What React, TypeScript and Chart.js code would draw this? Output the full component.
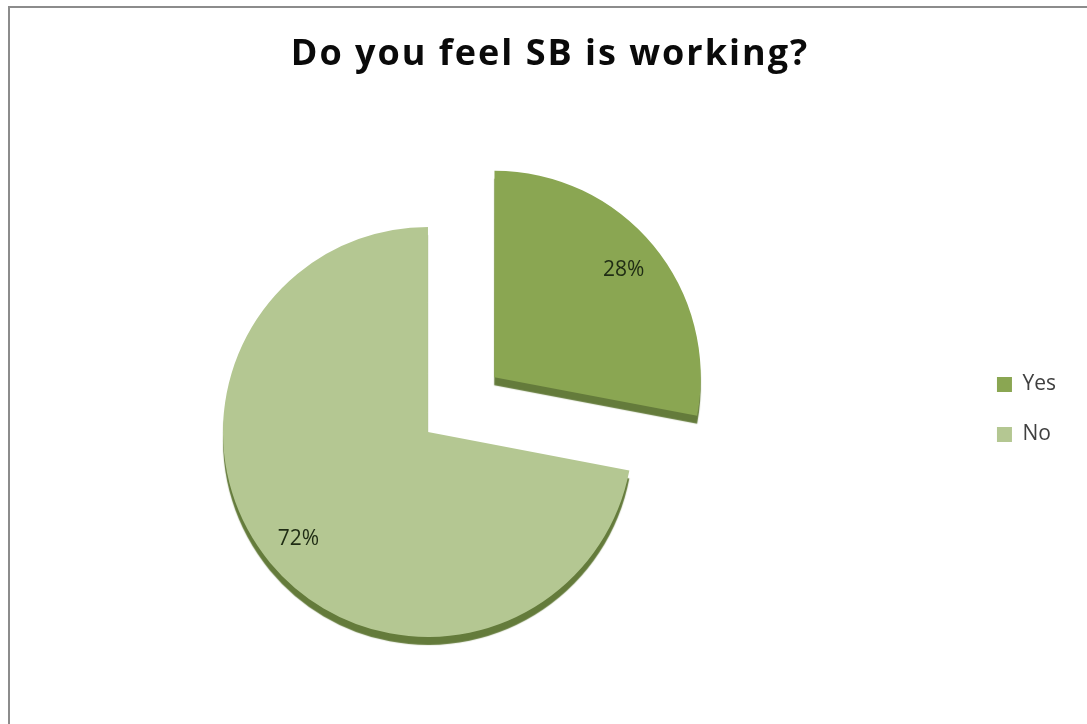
import React, { useEffect, useRef } from "react";
import { Chart, registerables } from "chart.js";

Chart.register(...registerables);

const titleText = "Do you feel SB is working?";
const categories = ["Yes", "No"];
const values = [28, 72];
const sliceColors = ["#8aa652", "#b4c792"];
const explodeOffsets = [344, 0];

const depthPlugin = {
  id: "depthAndLabels",
  beforeDatasetsDraw(chart: any) {
    const ctx = chart.ctx;
    ctx.save();
    ctx.shadowColor = "#647b3b";
    ctx.shadowOffsetX = 0;
    ctx.shadowOffsetY = 8;
    ctx.shadowBlur = 1;
  },
  afterDatasetsDraw(chart: any) {
    const ctx = chart.ctx;
    ctx.restore();
    const meta = chart.getDatasetMeta(0);
    const total = values.reduce((a, b) => a + b, 0);
    meta.data.forEach((arc: any, i: number) => {
      const { x, y, startAngle, endAngle, outerRadius } = arc.getProps(
        ["x", "y", "startAngle", "endAngle", "outerRadius"],
        true
      );
      const mid = (startAngle + endAngle) / 2;
      const off = (arc.options.offset || 0) / 4;
      const d = off + outerRadius * 0.82;
      ctx.save();
      ctx.font = "21px 'Open Sans'";
      ctx.fillStyle = "#1f2c14";
      ctx.textAlign = "center";
      ctx.textBaseline = "middle";
      ctx.fillText(
        Math.round((values[i] / total) * 100) + "%",
        x + Math.cos(mid) * d,
        y + Math.sin(mid) * d
      );
      ctx.restore();
    });
  },
};

export default function App() {
  const canvasRef = useRef<HTMLCanvasElement | null>(null);

  useEffect(() => {
    if (!canvasRef.current) return;
    const chart = new Chart(canvasRef.current, {
      type: "pie",
      data: {
        labels: categories,
        datasets: [
          {
            data: values,
            backgroundColor: sliceColors,
            borderWidth: 0,
            offset: explodeOffsets,
            hoverOffset: 0,
          } as any,
        ],
      },
      options: {
        responsive: false,
        animation: false,
        events: [],
        radius: 205,
        layout: { padding: { left: 0, right: 21, top: 140, bottom: 0 } },
        plugins: {
          title: { display: false },
          tooltip: { enabled: false },
          legend: {
            position: "right",
            align: "start",
            title: {
              display: true,
              text: " ",
              padding: { top: 190.6, bottom: 0 },
            },
            labels: {
              boxWidth: 15,
              boxHeight: 15,
              padding: 29,
              color: "#404040",
              font: { family: "Open Sans", size: 21 },
            },
          },
        },
      } as any,
      plugins: [depthPlugin],
    });
    return () => chart.destroy();
  }, []);

  return (
    <div
      style={{
        position: "fixed",
        left: 0,
        top: 0,
        width: 1087,
        height: 724,
        overflow: "hidden",
        background: "#ffffff",
      }}
    >
      <div
        style={{
          position: "absolute",
          left: 8,
          top: 6,
          width: 1200,
          height: 900,
          border: "2px solid #8c8c8c",
          boxSizing: "border-box",
        }}
      />
      <canvas
        ref={canvasRef}
        width={1199}
        height={724}
        style={{ position: "absolute", left: -112, top: 0, width: 1199, height: 724 }}
      />
      <div
        style={{
          position: "absolute",
          left: 0,
          top: 35,
          width: 1100,
          textAlign: "center",
          fontFamily: "'Open Sans'",
          fontWeight: 700,
          fontSize: 36,
          letterSpacing: "2px",
          lineHeight: "34px",
          color: "#0a0a0a",
        }}
      >
        {titleText}
      </div>
    </div>
  );
}
